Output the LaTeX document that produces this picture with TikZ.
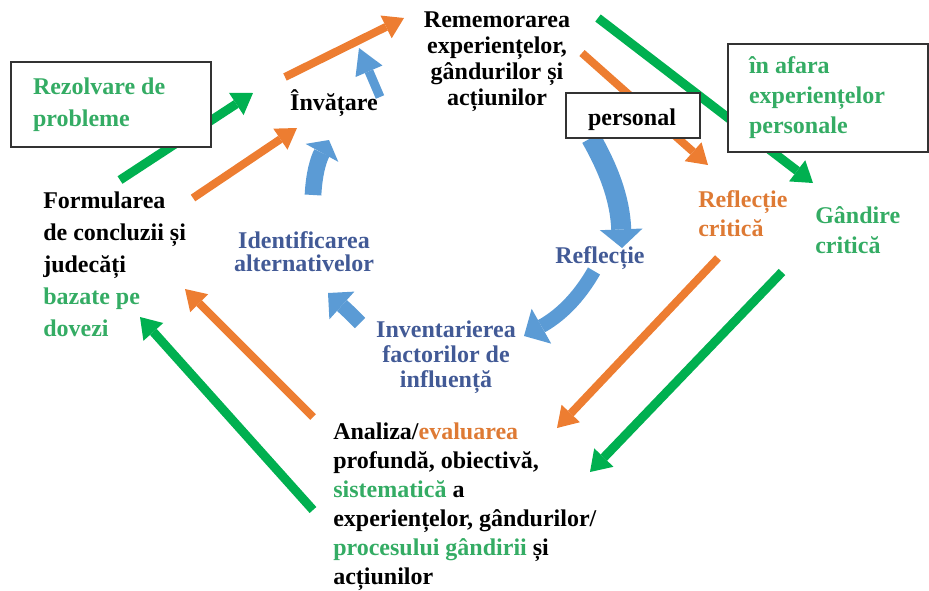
\documentclass[tikz,border=0pt]{standalone}
\usepackage{fontspec}
\setmainfont{Liberation Serif}
\usetikzlibrary{arrows.meta}

\definecolor{arrOrange}{HTML}{ED7D31}
\definecolor{arrGreen}{HTML}{00B050}
\definecolor{arrBlue}{HTML}{5B9BD5}
\definecolor{txtBlue}{RGB}{66,90,150}
\definecolor{txtGreen}{RGB}{52,172,100}
\definecolor{txtOrange}{RGB}{222,122,52}

\begin{document}
\begin{tikzpicture}[x=0.75pt,y=-0.75pt,
  txt/.style={font=\bfseries\fontsize{18pt}{#1}\selectfont, inner sep=0pt},
  orangearrow/.style={draw=arrOrange, line width=6pt,
    -{Triangle[width=19pt,length=15pt,line width=0pt]}},
  greenarrow/.style={draw=arrGreen, line width=6.75pt,
    -{Triangle[width=20pt,length=15pt,line width=0pt]}},
  bluearrow/.style n args={3}{draw=arrBlue, line width=#1,
    -{Triangle[width=#2,length=#3,line width=0pt]}},
  boxed/.style={draw=black!80, line width=0.9pt, fill=white}]

\useasboundingbox (0,0) rectangle (929,590);

% ---- text nodes of the cycle ----
\node[txt=19.5pt, align=center] (rem) at (497,62)
  {Rememorarea\\experiențelor,\\gândurilor și\\acțiunilor};
\node[txt=24pt] (inv) at (334,103) {Învățare};
\node[txt=24pt, align=left, anchor=west] (form) at (43,264)
  {Formularea\\de concluzii și\\judecăți\\\textcolor{txtGreen}{bazate pe}\\\textcolor{txtGreen}{dovezi}};
\node[txt=17.25pt, align=center, text=txtBlue] (ident) at (304,252)
  {Identificarea\\alternativelor};
\node[txt=24pt, text=txtBlue] (refl) at (600,258) {Reflecție};
\node[txt=18.75pt, align=center, text=txtBlue] (inven) at (446,357)
  {Inventarierea\\factorilor de\\influență};
\node[txt=21.75pt, align=left, anchor=west, text=txtOrange] (refc) at (698,213.5)
  {Reflecție\\critică};
\node[txt=22.5pt, align=left, anchor=west, text=txtGreen] (gand) at (815,230)
  {Gândire\\critică};
\node[txt=21.75pt, align=left, anchor=west] (anal) at (333,506.5)
  {Analiza/\textcolor{txtOrange}{evaluarea}\\profundă, obiectivă,\\\textcolor{txtGreen}{sistematică} a\\experiențelor, gândurilor/\\\textcolor{txtGreen}{procesului gândirii} și\\acțiunilor};

% ---- connector end points ----
\coordinate (inv-o) at (285,77);   \coordinate (rem-o) at (404,18);
\coordinate (form-o) at (193,198); \coordinate (inv-oi) at (297,128);
\coordinate (rem-oo) at (582,53);  \coordinate (refc-in) at (708,165);
\coordinate (refc-out) at (718,258); \coordinate (anal-oi) at (557,428);
\coordinate (anal-oo) at (313,417); \coordinate (form-oi) at (185,289);

\coordinate (form-g) at (120,180);  \coordinate (inv-g) at (253,93);
\coordinate (rem-g) at (598,18);    \coordinate (gand-in) at (813,183);
\coordinate (gand-out) at (782,272); \coordinate (anal-gi) at (590,472);
\coordinate (anal-go) at (313,510); \coordinate (form-gi) at (140,317);

\coordinate (pers-b) at (591,138);  \coordinate (refl-in) at (622,248);
\coordinate (refl-out) at (594,271); \coordinate (inven-in) at (524,336);
\coordinate (inven-out) at (360,323); \coordinate (ident-in) at (328,293);
\coordinate (ident-out) at (313,195); \coordinate (inv-b) at (329,140);
\coordinate (inv-bo) at (380,97);   \coordinate (rem-b) at (359,48);

% ---- orange path: reflecție critică ----
\draw[orangearrow] (inv-o) -- (rem-o);
\draw[orangearrow] (form-o) -- (inv-oi);
\draw[orangearrow] (rem-oo) -- (refc-in);
\draw[orangearrow] (refc-out) -- (anal-oi);
\draw[orangearrow] (anal-oo) -- (form-oi);

% ---- green path: gândire critică ----
\draw[greenarrow] (form-g) -- (inv-g);
\draw[greenarrow] (rem-g) -- (gand-in);
\draw[greenarrow] (gand-out) -- (anal-gi);
\draw[greenarrow] (anal-go) -- (form-gi);

% ---- blue cycle: reflecție ----
\draw[bluearrow={15pt}{32pt}{14pt}] (pers-b) .. controls (608,168) and (620,198) .. (refl-in);
\draw[bluearrow={10.5pt}{30pt}{15pt}] (refl-out) .. controls (582,292) and (565,313) .. (inven-in);
\draw[bluearrow={11pt}{28pt}{14pt}] (inven-out) .. controls (348,311) .. (ident-in);
\draw[bluearrow={12.5pt}{28pt}{11pt}] (ident-out) .. controls (314,175) and (318,160) .. (inv-b);
\draw[bluearrow={6.75pt}{22pt}{19pt}] (inv-bo) -- (rem-b);

% ---- label boxes laid over the arrows ----
\node[boxed, txt=24pt, inner xsep=16.5pt, minimum width=150pt, minimum height=63.75pt,
  text width=117pt, align=flush left, text=txtGreen] (rez) at (111,104.5)
  {Rezolvare de\\probleme};
\node[boxed, txt=22.5pt, inner xsep=15.75pt, minimum width=150pt, minimum height=81pt,
  text width=118.5pt, align=flush left, text=txtGreen] (afara) at (828,98)
  {în afara\\experiențelor\\personale};
\node[boxed, minimum width=100.5pt, minimum height=33.75pt] (pbox) at (633,115.5) {};
\node[txt=24pt] (pers) at (632,120) {personal};

\end{tikzpicture}
\end{document}
